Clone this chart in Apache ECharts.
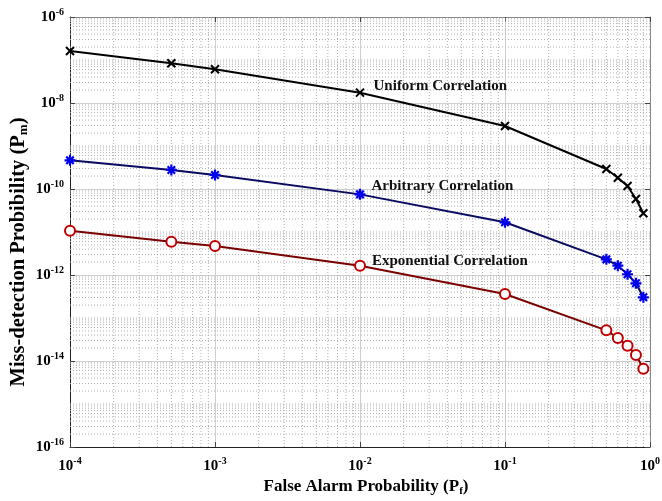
<!DOCTYPE html>
<html><head><meta charset="utf-8">
<script src="https://cdn.jsdelivr.net/npm/echarts@6/dist/echarts.min.js"></script>
<style>html,body{margin:0;padding:0;background:#fff}#c{width:662px;height:501px}</style>
</head><body><div id="c"></div>
<script>
const pfValues = [1e-4, 5e-4, 1e-3, 1e-2, 1e-1, 0.5, 0.6, 0.7, 0.8, 0.9];
const uniformPm = [1.62e-7, 8.4e-8, 6.1e-8, 1.74e-8, 2.92e-9, 2.92e-10, 1.83e-10, 1.17e-10, 5.85e-11, 2.72e-11];
const arbitraryPm = [4.64e-10, 2.77e-10, 2.12e-10, 7.5e-11, 1.68e-11, 2.31e-12, 1.65e-12, 1.04e-12, 6.4e-13, 3.03e-13];
const exponentialPm = [1.07e-11, 5.96e-12, 4.72e-12, 1.65e-12, 3.61e-13, 5.16e-14, 3.43e-14, 2.27e-14, 1.38e-14, 6.6e-15];
const seriesNames = ['Uniform Correlation', 'Arbitrary Correlation', 'Exponential Correlation'];
const labelAnchors = [[1.23e-2, 2.5e-8], [1.19e-2, 1.17e-10], [1.2e-2, 2.12e-12]];
const xRange = [1e-4, 1];
const yRange = [1e-16, 1e-6];

const FONT = '"Liberation Serif", "Times New Roman", serif';
const xMinor = [], yMinor = [];
for (let e = -4; e < 0; e++) for (let k = 2; k <= 9; k++) xMinor.push(k * Math.pow(10, e));
for (let e = -16; e < -6; e++) {
  if (e % 2 !== 0) yMinor.push(Math.pow(10, e));
  for (let k = 2; k <= 9; k++) yMinor.push(k * Math.pow(10, e));
}
const xGridData = [], yGridData = [];
xMinor.forEach(v => { xGridData.push([v, yRange[0]], [v, yRange[1]], [v, '-']); });
yMinor.forEach(v => { yGridData.push([xRange[0], v], [xRange[1], v], ['-', v]); });

const pw = v => {
  const e = Math.round(Math.log10(v));
  return '{b|10}{s|' + e + '}';
};
const tickRich = {
  b: {fontFamily: FONT, fontWeight: 'bold', fontSize: 15, color: '#000'},
  s: {fontFamily: FONT, fontWeight: 'bold', fontSize: 10, color: '#000', padding: [0, 0, 10, 0]}
};
const nameRich = {
  t: {fontFamily: FONT, fontWeight: 'bold', fontSize: 17, color: '#000'},
  sub: {fontFamily: FONT, fontWeight: 'bold', fontSize: 11, color: '#000', padding: [8, 0, 0, 0]}
};
const yNameRich = {
  t: {fontFamily: FONT, fontWeight: 'bold', fontSize: 20.5, color: '#000'},
  sub: {fontFamily: FONT, fontWeight: 'bold', fontSize: 13, color: '#000', padding: [9, 0, 0, 0]}
};
const baseX = {
  type: 'log', logBase: 10, min: xRange[0], max: xRange[1],
  axisLine: {show: true, lineStyle: {color: '#222', width: 1}},
  axisTick: {show: true, inside: true, length: 5, lineStyle: {color: '#444'}},
};
const baseY = {
  type: 'log', logBase: 10, min: yRange[0], max: yRange[1], interval: 2,
  axisLine: {show: true, lineStyle: {color: '#222', width: 1}},
  axisTick: {show: true, inside: true, length: 5, lineStyle: {color: '#444'}},
};
const chart = echarts.init(document.getElementById('c'), null, {renderer: 'canvas'});
const mkLabel = (i) => ({
  silent: true,
  symbol: 'circle', symbolSize: 1,
  itemStyle: {color: 'rgba(0,0,0,0)'},
  label: {show: true, position: 'right', distance: 0, formatter: seriesNames[i],
    fontFamily: FONT, fontWeight: 'bold', fontSize: 15, color: '#111'},
  data: [{coord: labelAnchors[i]}]
});
const xSym = 'path://M0,0L10,10M10,0L0,10';
const starSym = 'path://M5,0L5,10M0,5L10,5M1.6,1.6L8.4,8.4M8.4,1.6L1.6,8.4';
const gridStyle = {color: '#b0b0b0', type: [1, 2], width: 1};
chart.setOption({
  animation: false,
  backgroundColor: '#fff',
  grid: {left: 70, right: 12, top: 17, bottom: 54, containLabel: false, outerBoundsMode: 'none'},
  xAxis: [
    Object.assign({}, baseX, {
      position: 'bottom',
      axisLabel: {formatter: pw, rich: tickRich, margin: 9},
      splitLine: {show: true, lineStyle: {color: '#cfcfcf', width: 1}},
      name: '{t|False Alarm Probability (P}{sub|f}{t|)}',
      nameLocation: 'middle', nameGap: 28,
      nameTextStyle: {rich: nameRich, padding: [0, 0, 0, 12]}
    }),
    Object.assign({}, baseX, {
      position: 'top', axisLabel: {show: false}, splitLine: {show: false},
      axisLine: {show: true, lineStyle: {color: '#888'}}
    })
  ],
  yAxis: [
    Object.assign({}, baseY, {
      position: 'left',
      axisLabel: {formatter: pw, rich: tickRich, margin: 6},
      splitLine: {show: true, lineStyle: {color: '#cfcfcf', width: 1}},
      name: '{t|Miss-detection Probibility (P}{sub|m}{t|)}',
      nameLocation: 'middle', nameGap: 40, nameRotate: 90, nameMoveOverlap: false,
      nameTextStyle: {rich: yNameRich, padding: [0, 40, 0, 0]}
    }),
    Object.assign({}, baseY, {
      position: 'right', axisLabel: {show: false}, splitLine: {show: false},
      axisLine: {show: true, lineStyle: {color: '#888'}}
    })
  ],
  series: [
    {
      type: 'line', data: xGridData, silent: true, symbol: 'none', connectNulls: false,
      lineStyle: gridStyle, z: 1
    },
    {
      type: 'line', data: yGridData, silent: true, symbol: 'none', connectNulls: false,
      lineStyle: gridStyle, z: 1
    },
    {
      name: seriesNames[0], type: 'line',
      data: pfValues.map((x, i) => [x, uniformPm[i]]),
      lineStyle: {color: '#000', width: 2},
      symbol: xSym, symbolSize: 8,
      itemStyle: {color: '#000', borderColor: '#000', borderWidth: 2},
      markPoint: mkLabel(0), z: 5
    },
    {
      name: seriesNames[1], type: 'line',
      data: pfValues.map((x, i) => [x, arbitraryPm[i]]),
      lineStyle: {color: '#0a0a60', width: 2},
      symbol: starSym, symbolSize: 11,
      itemStyle: {color: '#0000ee', borderColor: '#0000ee', borderWidth: 2.2},
      markPoint: mkLabel(1), z: 5
    },
    {
      name: seriesNames[2], type: 'line',
      data: pfValues.map((x, i) => [x, exponentialPm[i]]),
      lineStyle: {color: '#7a0000', width: 2},
      symbol: 'emptyCircle', symbolSize: 10,
      itemStyle: {color: '#c00000', borderColor: '#c00000', borderWidth: 2},
      markPoint: mkLabel(2), z: 5
    }
  ]
});
</script></body></html>
